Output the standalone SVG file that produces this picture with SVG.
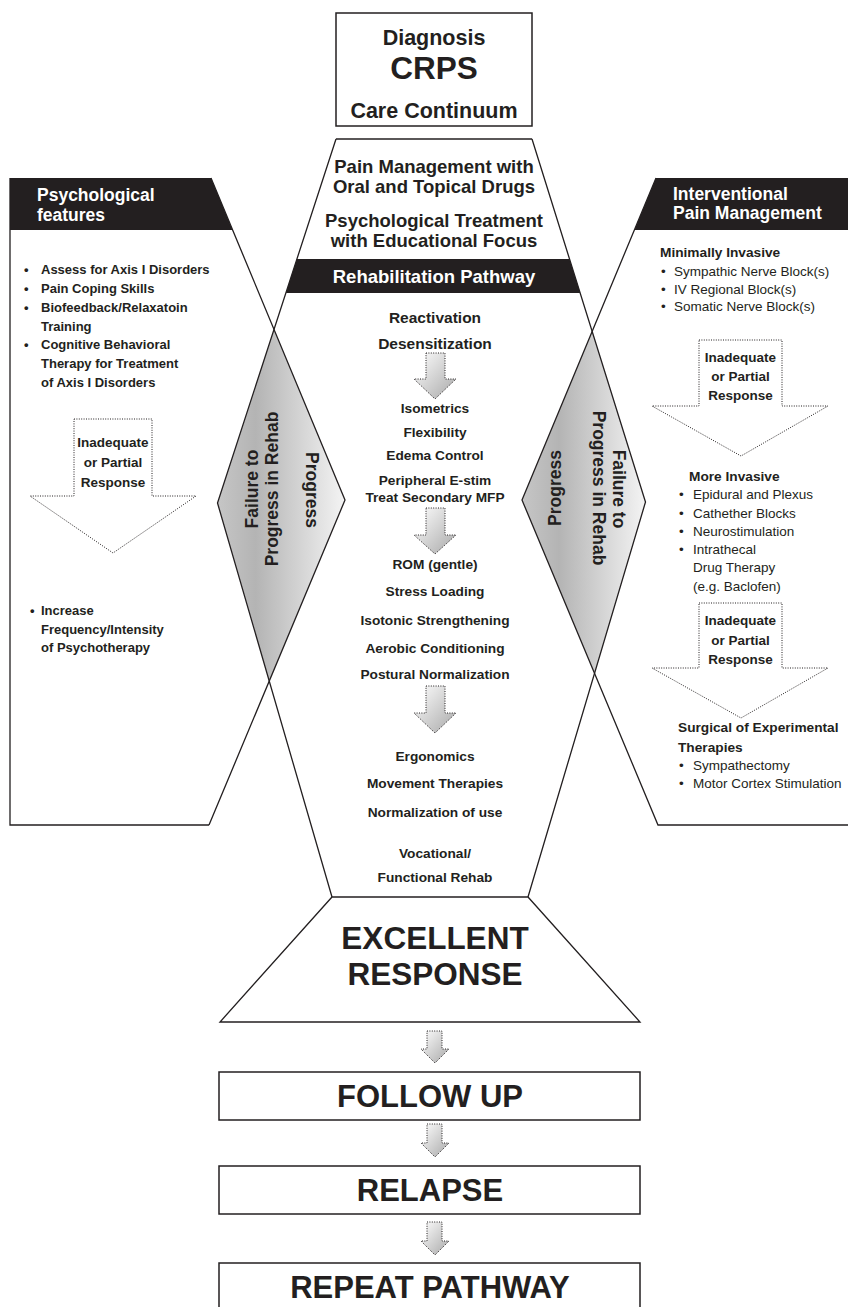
<svg xmlns="http://www.w3.org/2000/svg" width="848" height="1307" viewBox="0 0 848 1307">
<defs>
<linearGradient id="gd" x1="0" y1="0" x2="1" y2="0">
<stop offset="0" stop-color="#c6c6c6"/>
<stop offset="0.3" stop-color="#b4b4b4"/>
<stop offset="1" stop-color="#f4f4f4"/>
</linearGradient>
<linearGradient id="ga" x1="0" y1="0" x2="1" y2="1">
<stop offset="0" stop-color="#ffffff"/>
<stop offset="1" stop-color="#a8a8a8"/>
</linearGradient>
</defs>
<style>
text { font-family: "Liberation Sans", Arial, Helvetica, sans-serif; fill: #231f20; }
.hdr { font-size: 17.5px; font-weight: bold; fill: #ffffff; }
.ctop { font-size: 18.5px; font-weight: bold; text-anchor: middle; }
.step { font-size: 13.7px; font-weight: bold; text-anchor: middle; }
.step2 { font-size: 15.5px; font-weight: bold; text-anchor: middle; }
.lst { font-size: 13px; font-weight: bold; }
.rl { font-size: 13.5px; }
.rh { font-size: 13.7px; font-weight: bold; }
.inad { font-size: 13.5px; font-weight: bold; text-anchor: middle; }
.big { font-size: 31px; font-weight: bold; text-anchor: middle; }
.dia { font-size: 17.5px; font-weight: bold; text-anchor: middle; }
.ln { fill: none; stroke: #231f20; stroke-width: 1.3; }
.dot { stroke: #231f20; stroke-width: 1; stroke-dasharray: 1 1.4; }
.sm { fill: url(#ga); }
.lg { fill: #ffffff; }
.box { fill: #ffffff; stroke: #231f20; stroke-width: 1.5; }
.blk { fill: #231f20; }
</style>
<rect width="848" height="1307" fill="#ffffff"/>

<g id="diagnosis">
<rect class="box" x="336" y="13" width="196" height="113"/>
<text class="c" x="434" y="44.5" style="font-size:21.5px;font-weight:bold;text-anchor:middle">Diagnosis</text>
<text x="434" y="79" style="font-size:31.5px;font-weight:bold;text-anchor:middle">CRPS</text>
<text x="434" y="118" style="font-size:21.5px;font-weight:bold;text-anchor:middle">Care Continuum</text>
</g>

<g id="diamond-left">
<polygon points="274,329.4 345,500 269.2,681 217.5,503" fill="url(#gd)"/>
<text class="dia" transform="translate(257.5,489) rotate(-90)">Failure to</text>
<text class="dia" transform="translate(277.5,489) rotate(-90)">Progress in Rehab</text>
<text class="dia" transform="translate(305.5,490) rotate(90)">Progress</text>
</g>

<g id="diamond-right">
<polygon points="592.2,331.4 645.5,502 594.5,673.2 522,500" fill="url(#gd)"/>
<text class="dia" transform="translate(561,488) rotate(-90)">Progress</text>
<text class="dia" transform="translate(612.5,489) rotate(90)">Failure to</text>
<text class="dia" transform="translate(592.5,488) rotate(90)">Progress in Rehab</text>
</g>

<g id="psychological">
<polygon class="blk" points="10,178 211,178 232.6,230 10,230"/>
<text class="hdr" x="37" y="200.5">Psychological</text>
<text class="hdr" x="37" y="220.5">features</text>
<g class="lst">
<text x="24" y="274">•</text><text x="41" y="274">Assess for Axis I Disorders</text>
<text x="24" y="293">•</text><text x="41" y="293">Pain Coping Skills</text>
<text x="24" y="312">•</text><text x="41" y="312">Biofeedback/Relaxatoin</text>
<text x="41" y="330.5">Training</text>
<text x="24" y="349">•</text><text x="41" y="349">Cognitive Behavioral</text>
<text x="41" y="368">Therapy for Treatment</text>
<text x="41" y="387">of Axis I Disorders</text>
<text x="30" y="615">•</text><text x="41" y="615">Increase</text>
<text x="41" y="633.5">Frequency/Intensity</text>
<text x="41" y="652">of Psychotherapy</text>
</g>
</g>

<g id="interventional">
<polygon class="blk" points="656,178 848,178 848,230 634.4,230"/>
<text class="hdr" x="673" y="199.5">Interventional</text>
<text class="hdr" x="673" y="219">Pain Management</text>
<text class="rh" x="660" y="257">Minimally Invasive</text>
<g class="rl">
<text x="661" y="276">•</text><text x="674" y="276">Sympathic Nerve Block(s)</text>
<text x="661" y="293.5">•</text><text x="674" y="293.5">IV Regional Block(s)</text>
<text x="661" y="311">•</text><text x="674" y="311">Somatic Nerve Block(s)</text>
</g>
<text class="rh" x="689" y="481">More Invasive</text>
<g class="rl">
<text x="679" y="499">•</text><text x="693" y="499">Epidural and Plexus</text>
<text x="679" y="517.5">•</text><text x="693" y="517.5">Cathether Blocks</text>
<text x="679" y="535.5">•</text><text x="693" y="535.5">Neurostimulation</text>
<text x="679" y="553.5">•</text><text x="693" y="553.5">Intrathecal</text>
<text x="693" y="572">Drug Therapy</text>
<text x="693" y="590.5">(e.g. Baclofen)</text>
</g>
<text class="rh" x="678" y="732">Surgical of Experimental</text>
<text class="rh" x="678" y="752">Therapies</text>
<g class="rl">
<text x="679" y="770">•</text><text x="693" y="770">Sympathectomy</text>
<text x="679" y="788">•</text><text x="693" y="788">Motor Cortex Stimulation</text>
</g>
</g>

<g id="rehab-pathway">
<polygon class="blk" points="296.9,259 569.5,259 580.2,293 285.9,293"/>
<text class="ctop" x="434" y="172.5">Pain Management with</text>
<text class="ctop" x="434" y="193">Oral and Topical Drugs</text>
<text class="ctop" x="434" y="226.5">Psychological Treatment</text>
<text class="ctop" x="434" y="247">with Educational Focus</text>
<text class="ctop" x="434" y="283" style="fill:#ffffff">Rehabilitation Pathway</text>
<text class="step2" x="435" y="322.5">Reactivation</text>
<text class="step2" x="435" y="348.5">Desensitization</text>
<text class="step" x="435" y="412.5">Isometrics</text>
<text class="step" x="435" y="437">Flexibility</text>
<text class="step" x="435" y="460">Edema Control</text>
<text class="step" x="435" y="485">Peripheral E-stim</text>
<text class="step" x="435" y="502">Treat Secondary MFP</text>
<text class="step" x="435" y="569">ROM (gentle)</text>
<text class="step" x="435" y="596">Stress Loading</text>
<text class="step" x="435" y="625">Isotonic Strengthening</text>
<text class="step" x="435" y="653">Aerobic Conditioning</text>
<text class="step" x="435" y="679">Postural Normalization</text>
<text class="step" x="435" y="761">Ergonomics</text>
<text class="step" x="435" y="788">Movement Therapies</text>
<text class="step" x="435" y="817">Normalization of use</text>
<text class="step" x="435" y="858">Vocational/</text>
<text class="step" x="435" y="882">Functional Rehab</text>
</g>

<g id="excellent-response">
<polygon class="box" points="332,897 528,897 640,1022 220,1022" style="stroke-width:1.3"/>
<text x="435" y="949" style="font-size:31.5px;font-weight:bold;text-anchor:middle">EXCELLENT</text>
<text x="435" y="985" style="font-size:31.5px;font-weight:bold;text-anchor:middle">RESPONSE</text>
</g>

<g id="follow-up">
<rect class="box" x="219" y="1072" width="421" height="48"/>
<text class="big" x="430" y="1107">FOLLOW UP</text>
</g>
<g id="relapse">
<rect class="box" x="219" y="1166" width="421" height="48"/>
<text class="big" x="430" y="1201">RELAPSE</text>
</g>
<g id="repeat-pathway">
<rect class="box" x="219" y="1263" width="421" height="50"/>
<text class="big" x="430" y="1298">REPEAT PATHWAY</text>
</g>

<g id="outline">
<path class="ln" d="M336,139 H532"/>
<path class="ln" d="M10,178 V825 H209"/>
<path class="ln" d="M211,178 L345,500 L209,825"/>
<path class="ln" d="M336,139 L217.5,503 L332,897"/>
<path class="ln" d="M532,139 L645.5,502 L528,897"/>
<path class="ln" d="M656,178 L522,500 L658,825 H848"/>
</g>

<g id="connectors">
<path class="dot sm" d="M426,353 H445 V379 H456 L435,399 L414,379 H426 Z"/>
<path class="dot sm" d="M426,508 H445 V535 H456 L435,554 L414,535 H426 Z"/>
<path class="dot sm" d="M426,686 H445 V713 H456 L435,733 L414,713 H426 Z"/>
<path class="dot sm" d="M427,1031 H442 V1049 H449 L435,1063 L421,1049 H427 Z"/>
<path class="dot sm" d="M427,1124 H442 V1143 H449 L435,1157 L421,1143 H427 Z"/>
<path class="dot sm" d="M427,1222 H442 V1241 H449 L435,1255 L421,1241 H427 Z"/>
<path class="dot lg" d="M74,419 H152 V496 H196 L113,553 L30,496 H74 Z"/>
<path class="dot lg" d="M699,340 H782 V406 H828 L741,456 L652,406 H699 Z"/>
<path class="dot lg" d="M699,603 H782 V668 H828 L741,718 L652,668 H699 Z"/>
<text class="inad" x="113" y="447">Inadequate</text>
<text class="inad" x="113" y="467">or Partial</text>
<text class="inad" x="113" y="487">Response</text>
<text class="inad" x="740.5" y="362">Inadequate</text>
<text class="inad" x="740.5" y="381">or Partial</text>
<text class="inad" x="740.5" y="400">Response</text>
<text class="inad" x="740.5" y="625">Inadequate</text>
<text class="inad" x="740.5" y="644.5">or Partial</text>
<text class="inad" x="740.5" y="664">Response</text>
</g>
</svg>
